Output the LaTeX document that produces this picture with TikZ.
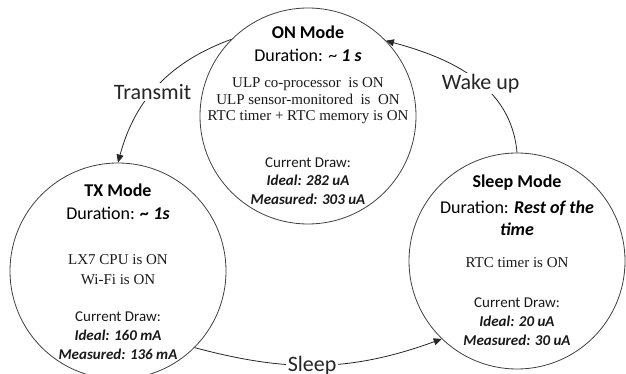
\documentclass[tikz,border=0pt]{standalone}
\usepackage{fontspec}
\setmainfont{Liberation Serif}
\newfontfamily\carlito{Carlito}
\usetikzlibrary{arrows.meta}
\begin{document}
\begin{tikzpicture}[x=1pt,y=1pt,
  modecircle/.style={circle, draw=black!75, line width=0.8pt, minimum size=#1, inner sep=0pt},
  modetitle/.style={font=\carlito\bfseries\fontsize{18}{21}\selectfont, inner sep=0pt},
  modeduration/.style={font=\carlito\fontsize{18}{22}\selectfont, align=center, inner sep=0pt},
  modestate/.style={font=\fontsize{15}{#1}\selectfont, align=center, inner sep=0pt, text=black!90},
  modecurrent/.style={font=\carlito\fontsize{15}{#1}\selectfont, align=center, inner sep=0pt, text=black!90},
  transition/.style={draw=black!85, line width=0.8pt, -{Triangle[length=8pt,width=7pt]}},
  translabel/.style={font=\carlito\fontsize{22}{24}\selectfont, fill=white, inner sep=1.5pt, text=black!85}
]
\useasboundingbox (0,0) rectangle (626,374);

% the three power modes
\node[modecircle=216pt] (on) at (308,258) {};
\node[modecircle=216pt] (tx) at (118,103) {};
\node[modecircle=216pt] (sleep) at (517,113) {};

% ON mode
\node[modetitle] (ontitle) at (308,342) {ON Mode};
\node[modeduration] (ondur) at (308,319) {Duration: \textasciitilde\ {\bfseries\itshape 1 s}};
\node[modestate=16.5] (onstate) at (308,273) {ULP co-processor\ \ is ON\\ULP sensor-monitored\ \ is\ \ ON\\RTC timer + RTC memory is ON};
\node[modecurrent=18.5] (oncur) at (308,193) {Current Draw:\\{\bfseries\itshape Ideal: 282 uA}\\{\bfseries\itshape Measured: 303 uA}};

% TX mode
\node[modetitle] (txtitle) at (118,184) {TX Mode};
\node[modeduration] (txdur) at (118,161) {Duration: {\bfseries\itshape \textasciitilde\ 1s}};
\node[modestate=20] (txstate) at (118,104) {LX7 CPU is ON\\Wi-Fi is ON};
\node[modecurrent=19] (txcur) at (118,38) {Current Draw:\\{\bfseries\itshape Ideal: 160 mA}\\{\bfseries\itshape Measured: 136 mA}};

% Sleep mode
\node[modetitle] (sltitle) at (517,191) {Sleep Mode};
\node[modeduration] (sldur) at (517,156) {Duration: {\bfseries\itshape Rest of the}\\{\bfseries\itshape time}};
\node[modestate=17] (slstate) at (517,111) {RTC timer is ON};
\node[modecurrent=19] (slcur) at (517,52) {Current Draw:\\{\bfseries\itshape Ideal: 20 uA}\\{\bfseries\itshape Measured: 30 uA}};

% transitions
\draw[transition] (on.135) to[out=200, in=75] node[translabel, pos=0.55] (lbltx) {Transmit} (tx.90);
\draw[transition] (tx.-45) to[out=-15, in=200] node[translabel, pos=0.47] (lblsleep) {Sleep} (sleep.-134);
\draw[transition] (sleep.90) to[out=95, in=-15] node[translabel, pos=0.45] (lblwake) {Wake up} (on.44);
\end{tikzpicture}
\end{document}
